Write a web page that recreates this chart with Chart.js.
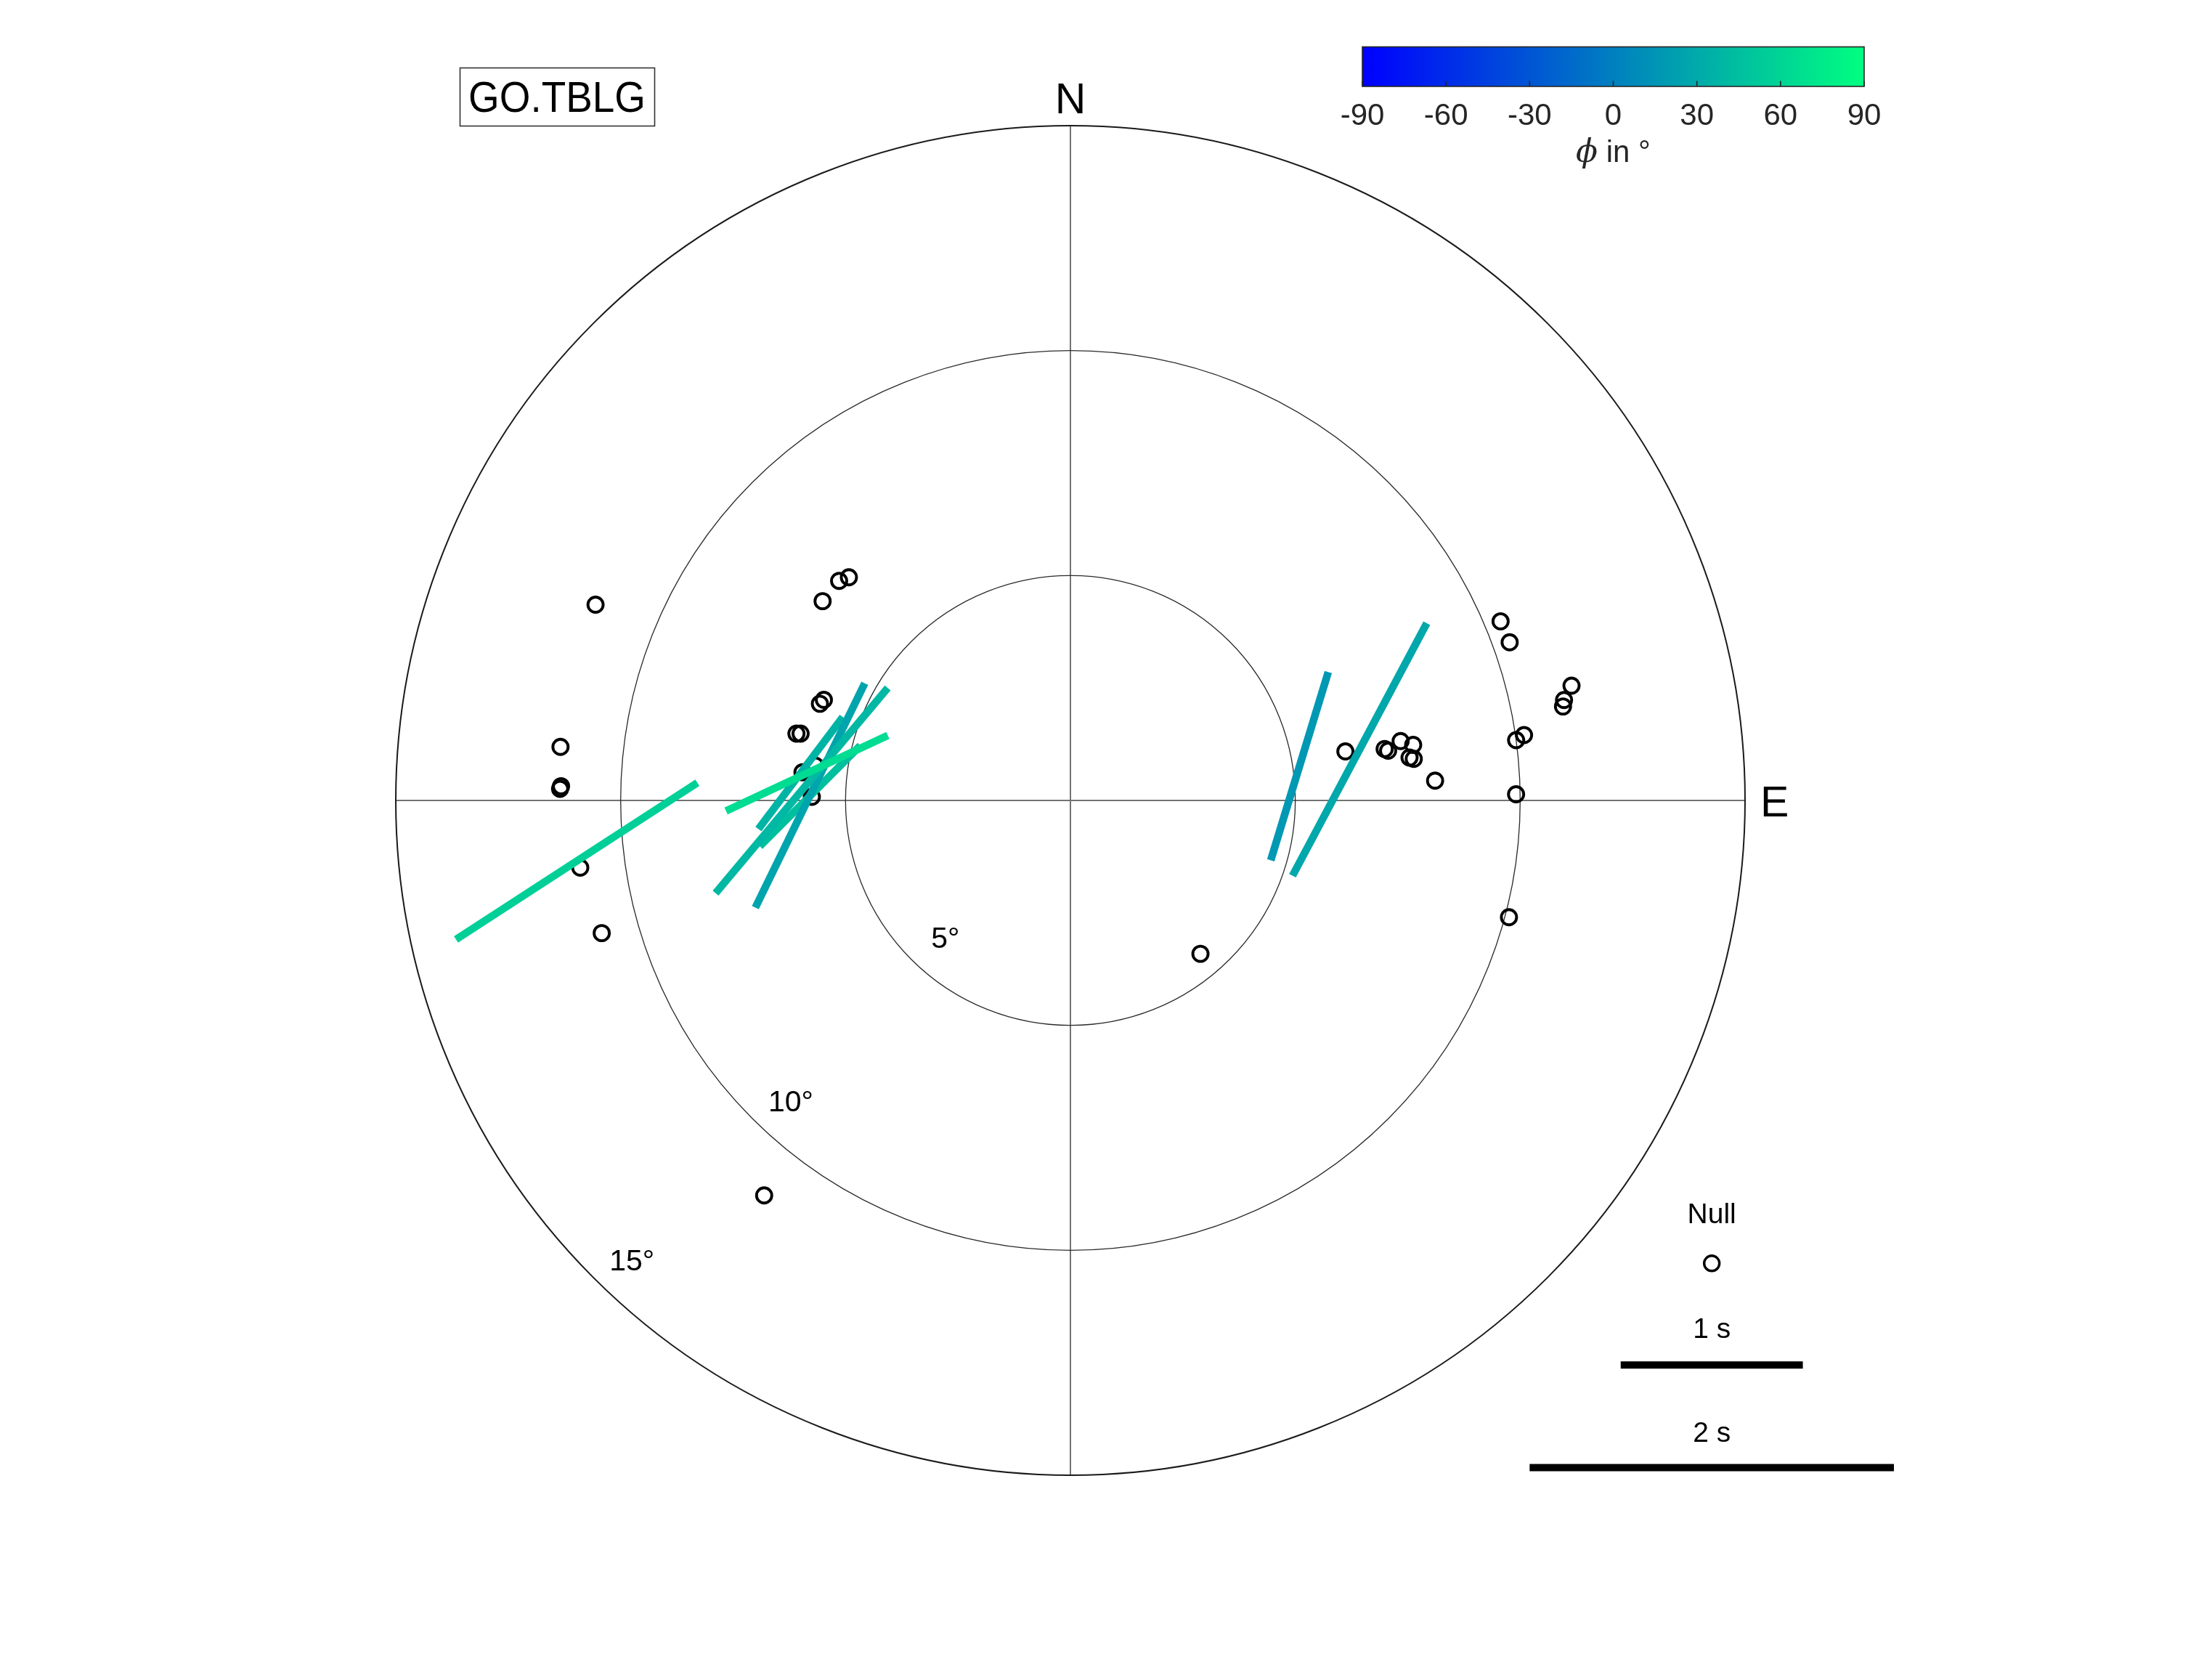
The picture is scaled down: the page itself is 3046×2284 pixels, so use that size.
<!DOCTYPE html>
<html><head><meta charset="utf-8">
<script src="https://cdn.jsdelivr.net/npm/chart.js@4.4.1/dist/chart.umd.min.js"></script>
<style>html,body{margin:0;padding:0;background:#fff;} canvas{display:block;}</style>
</head><body>
<canvas id="c" width="3046" height="2284"></canvas>
<script>
// ---------------- DATA ----------------
const stationName = 'GO.TBLG';
const ringValues = [5, 10, 15];
const ringLabels = ['5°', '10°', '15°'];
const directionLabels = ['N', 'E'];
const colorbarTicks = [-90, -60, -30, 0, 30, 60, 90];
const colorbarTickLabels = ['-90', '-60', '-30', '0', '30', '60', '90'];
const colorbarTitle = ['ϕ', ' in °'];

// Null measurements: back-azimuth (deg) and incidence (deg)
const nullBaz = [67.4, 70.2, 77.1, 78.5, 79.2, 81.8, 82.3, 89.2, 104.9, 79.9, 80.7, 81.1, 79.8, 80.8, 82.8, 83.1, 86.9, 139.7,
                 292.4, 276.0, 271.3, 271.6, 262.2, 254.2, 217.8, 308.8, 313.5, 315.2, 291.1, 292.2, 283.7, 283.9, 276.0, 277.8, 270.8];
const nullInc = [10.36, 10.38, 11.43, 11.20, 11.15, 10.19, 10.00, 9.91, 10.09, 6.21, 7.08, 7.15, 7.46, 7.72, 7.60, 7.69, 8.12, 4.47,
                 11.42, 11.40, 11.35, 11.33, 11.00, 10.83, 11.11, 7.07, 7.09, 6.99, 5.97, 5.92, 6.27, 6.18, 5.99, 5.73, 5.75];

// Split measurements: back-azimuth, incidence, fast axis phi (deg), delay time dt (s)
const splitBaz = [263.0, 275.9, 272.1, 271.1, 271.0, 275.8, 81.5, 80.0];
const splitInc = [11.06, 5.89, 5.98, 5.79, 5.79, 6.03, 5.15, 6.53];
const splitPhi = [57, 65, 40, 26, 45, 37, 17, 28];
const splitDt  = [1.58, 0.98, 1.47, 1.37, 0.78, 0.77, 1.08, 1.57];

const legendNullLabel = 'Null';
const legendDelays = [1, 2];
const legendDelayLabels = ['1 s', '2 s'];

// ---------------- LAYOUT ----------------
const W = 3046, H = 2284;
const CENTER_PX = { x: 1474, y: 1102 };
const PX_PER_DEG = 929 / 15;
const DEG_PER_SEC = 4.05;           // length of 1 s delay bar in plot units
const LEGEND_X = 14.26;             // plot units
const LEGEND_NULL_Y = -10.29;
const LEGEND_BAR_Y = [-12.55, -14.83];
const LEGEND_TEXT_BASE = [-9.39, -11.95, -14.26];
const FONT = '"Liberation Sans", Arial, Helvetica, sans-serif';

const rad = d => d * Math.PI / 180;
const toXY = (baz, inc) => ({ x: inc * Math.sin(rad(baz)), y: inc * Math.cos(rad(baz)) });
function winter(phi) {
  const t = (phi + 90) / 180;
  return `rgb(0,${Math.round(255 * t)},${Math.round(255 * (1 - 0.5 * t))})`;
}

// ---------------- DATASETS ----------------
const datasets = [];
datasets.push({
  label: 'Null',
  data: nullBaz.map((b, i) => toXY(b, nullInc[i])),
  pointRadius: 10.5, pointBorderWidth: 3.9, pointBorderColor: '#000',
  pointBackgroundColor: 'rgba(0,0,0,0)', pointStyle: 'circle', showLine: false, order: 3
});
splitBaz.forEach((b, i) => {
  const c = toXY(b, splitInc[i]);
  const half = 0.5 * splitDt[i] * DEG_PER_SEC;
  const dx = half * Math.sin(rad(splitPhi[i])), dy = half * Math.cos(rad(splitPhi[i]));
  datasets.push({
    label: 'split' + i,
    data: [{ x: c.x - dx, y: c.y - dy }, { x: c.x + dx, y: c.y + dy }],
    showLine: true, borderColor: winter(splitPhi[i]), borderWidth: 10.5,
    borderCapStyle: 'butt', pointRadius: 0, order: 2
  });
});
// legend samples
datasets.push({
  label: 'legendNull', data: [{ x: LEGEND_X, y: LEGEND_NULL_Y }],
  pointRadius: 10.5, pointBorderWidth: 3.4, pointBorderColor: '#000',
  pointBackgroundColor: 'rgba(0,0,0,0)', showLine: false, order: 1
});
legendDelays.forEach((d, i) => {
  const half = 0.5 * d * DEG_PER_SEC;
  datasets.push({
    label: 'legendBar' + i,
    data: [{ x: LEGEND_X - half, y: LEGEND_BAR_Y[i] }, { x: LEGEND_X + half, y: LEGEND_BAR_Y[i] }],
    showLine: true, borderColor: '#000', borderWidth: 10, borderCapStyle: 'butt', pointRadius: 0, order: 1
  });
});

// ---------------- PLUGINS ----------------
const polarGrid = {
  id: 'polarGrid',
  beforeDatasetsDraw(chart) {
    const { ctx, scales: { x, y } } = chart;
    const cx = x.getPixelForValue(0), cy = y.getPixelForValue(0);
    const rMax = ringValues[ringValues.length - 1];
    ctx.save();
    // crosshair
    ctx.strokeStyle = 'rgba(0,0,0,0.55)';
    ctx.lineWidth = 2;
    ctx.beginPath();
    ctx.moveTo(x.getPixelForValue(-rMax), cy); ctx.lineTo(x.getPixelForValue(rMax), cy);
    ctx.moveTo(cx, y.getPixelForValue(rMax)); ctx.lineTo(cx, y.getPixelForValue(-rMax));
    ctx.stroke();
    // rings
    ringValues.forEach((r, i) => {
      const rp = x.getPixelForValue(r) - cx;
      ctx.beginPath();
      ctx.arc(cx, cy, rp, 0, 2 * Math.PI);
      const outer = i === ringValues.length - 1;
      ctx.lineWidth = outer ? 2 : 1.3;
      ctx.strokeStyle = outer ? '#1a1a1a' : '#2a2a2a';
      ctx.stroke();
    });
    // ring labels
    ctx.fillStyle = '#000';
    ctx.font = `41px ${FONT}`;
    ctx.textAlign = 'center';
    ctx.textBaseline = 'middle';
    ringValues.forEach((r, i) => {
      const p = toXY(221.3 + 0.15 * r, r - 0.85);
      ctx.fillText(ringLabels[i], x.getPixelForValue(p.x), y.getPixelForValue(p.y) + 1);
    });
    // direction labels
    ctx.font = `59px ${FONT}`;
    ctx.textBaseline = 'alphabetic';
    ctx.textAlign = 'center';
    ctx.fillText(directionLabels[0], cx, y.getPixelForValue(rMax) - 17);
    ctx.textAlign = 'left';
    ctx.fillText(directionLabels[1], x.getPixelForValue(rMax) + 21, cy + 22);
    ctx.restore();
  },
  afterDatasetsDraw(chart) {
    const { ctx, scales: { x, y } } = chart;
    ctx.save();
    // station box
    ctx.strokeStyle = '#333';
    ctx.lineWidth = 1.6;
    ctx.strokeRect(633.5, 93.5, 268, 80);
    ctx.fillStyle = '#000';
    ctx.font = `59px ${FONT}`;
    ctx.textAlign = 'center';
    ctx.textBaseline = 'alphabetic';
    ctx.save();
    ctx.translate(767, 154);
    ctx.scale(0.93, 1);
    ctx.fillText(stationName, 0, 0);
    ctx.restore();

    // colorbar
    const L = 1876, R = 2567, T = 64.5, B = 119;
    const g = ctx.createLinearGradient(L, 0, R, 0);
    g.addColorStop(0, winter(colorbarTicks[0]));
    g.addColorStop(1, winter(colorbarTicks[colorbarTicks.length - 1]));
    ctx.fillStyle = g;
    ctx.fillRect(L, T, R - L, B - T);
    ctx.strokeStyle = '#262626';
    ctx.lineWidth = 1.6;
    ctx.strokeRect(L, T, R - L, B - T);
    const lo = colorbarTicks[0], hi = colorbarTicks[colorbarTicks.length - 1];
    ctx.beginPath();
    colorbarTicks.forEach(t => {
      const px = L + (t - lo) / (hi - lo) * (R - L);
      ctx.moveTo(px, B); ctx.lineTo(px, B - 7.5);
    });
    ctx.stroke();
    ctx.fillStyle = '#262626';
    ctx.font = `42px ${FONT}`;
    ctx.textAlign = 'center';
    colorbarTicks.forEach((t, i) => {
      const px = L + (t - lo) / (hi - lo) * (R - L);
      ctx.fillText(colorbarTickLabels[i], px, 171.5);
    });
    // colorbar title "ϕ in °"
    const phiFont = `italic 44px "DejaVu Serif", "Liberation Serif", serif`;
    const restFont = `42px ${FONT}`;
    ctx.font = phiFont; const w1 = ctx.measureText(colorbarTitle[0]).width;
    ctx.font = restFont; const w2 = ctx.measureText(colorbarTitle[1]).width;
    const startX = (L + R) / 2 - (w1 + w2) / 2;
    ctx.textAlign = 'left';
    ctx.font = phiFont; ctx.fillText(colorbarTitle[0], startX, 223);
    ctx.font = restFont; ctx.fillText(colorbarTitle[1], startX + w1, 223);

    // legend texts
    ctx.fillStyle = '#000';
    ctx.font = `39px ${FONT}`;
    ctx.textAlign = 'center';
    const lx = x.getPixelForValue(LEGEND_X);
    const texts = [legendNullLabel].concat(legendDelayLabels);
    texts.forEach((t, i) => ctx.fillText(t, lx, y.getPixelForValue(LEGEND_TEXT_BASE[i])));
    ctx.restore();
  }
};

new Chart(document.getElementById('c'), {
  type: 'scatter',
  data: { datasets },
  options: {
    responsive: false, maintainAspectRatio: false, animation: false, devicePixelRatio: 1,
    layout: { padding: 0, autoPadding: false },
    plugins: { legend: { display: false }, tooltip: { enabled: false } },
    scales: {
      x: { type: 'linear', display: false, min: -CENTER_PX.x / PX_PER_DEG, max: (W - CENTER_PX.x) / PX_PER_DEG },
      y: { type: 'linear', display: false, min: -(H - CENTER_PX.y) / PX_PER_DEG, max: CENTER_PX.y / PX_PER_DEG }
    }
  },
  plugins: [polarGrid]
});
</script>
</body></html>
